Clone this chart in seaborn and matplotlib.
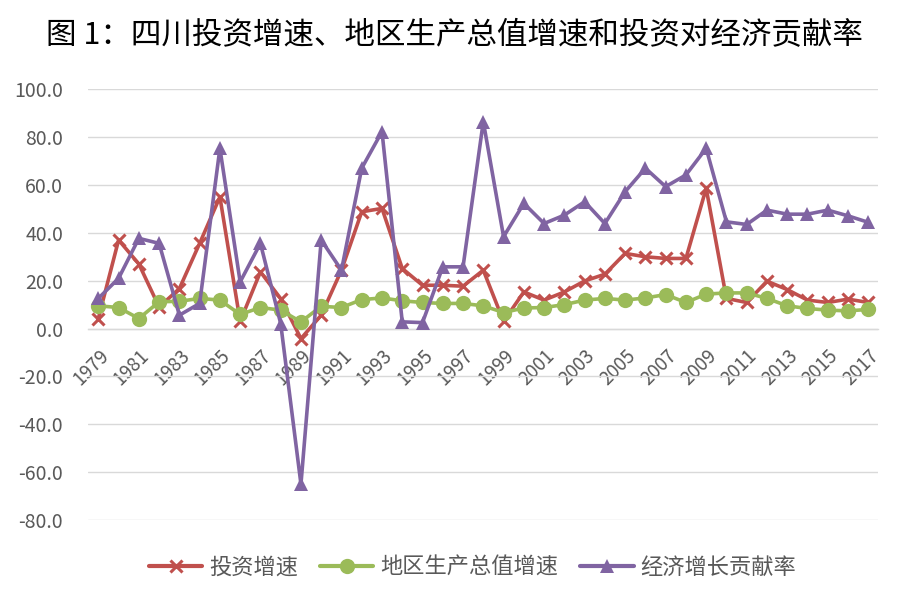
import numpy as np
import pandas as pd
import matplotlib
matplotlib.use("Agg")
import matplotlib.pyplot as plt
import seaborn as sns
from matplotlib.lines import Line2D

years = list(range(1979, 2018))
invest_growth = [4.2, 37.0, 27.0, 9.0, 16.7, 35.6, 55.0, 3.0, 23.7, 12.5, -4.2,
                 5.6, 24.4, 48.8, 50.2, 25.1, 18.1, 18.1, 17.7, 24.4, 3.0,
                 15.3, 11.9, 15.3, 19.9, 22.7, 31.4, 30.0, 29.3, 29.3, 58.6,
                 12.6, 10.9, 19.8, 16.3, 11.9, 10.9, 12.3, 10.9]
gdp_growth = [9.5, 8.8, 4.2, 11.2, 11.4, 12.6, 11.9, 5.9, 8.8, 7.7, 2.8,
              9.3, 8.8, 12.1, 12.8, 11.6, 10.9, 10.5, 10.5, 9.5, 6.7,
              8.6, 8.8, 10.0, 11.9, 12.6, 11.9, 12.8, 14.2, 10.9, 14.4,
              14.9, 14.9, 12.6, 9.5, 8.4, 7.7, 7.4, 8.0]
contrib_rate = [12.6, 21.0, 37.7, 35.6, 5.6, 10.5, 75.3, 19.5, 35.6, 2.1, -65.0,
                37.0, 24.4, 67.0, 82.3, 2.8, 2.5, 25.8, 25.8, 86.5, 38.4,
                52.3, 43.9, 47.4, 53.0, 43.9, 57.2, 67.0, 59.3, 64.2, 75.3,
                44.6, 43.5, 49.5, 47.8, 47.8, 49.5, 47.1, 44.4]
series_names = ["投资增速", "地区生产总值增速", "经济增长贡献率"]
title = "图 1：四川投资增速、地区生产总值增速和投资对经济贡献率"
yticks = [-80, -60, -40, -20, 0, 20, 40, 60, 80, 100]
xtick_years = list(range(1979, 2018, 2))

colors = ["#C0504D", "#9BBB59", "#8064A2"]
markers = ["x", "o", "^"]
msizes = [9, 11, 10]

sns.set_theme(style="white")
plt.rcParams["font.family"] = ["Noto Sans CJK SC", "DejaVu Sans"]

df = pd.concat([
    pd.DataFrame({"year": years, "value": vals, "series": name})
    for name, vals in zip(series_names, [invest_growth, gdp_growth, contrib_rate])
])

fig = plt.figure(figsize=(9, 5.95), dpi=100)
ax = fig.add_axes([0.098, 0.126, 0.878, 0.724])

for name, c, m, ms in zip(series_names, colors, markers, msizes):
    sub = df[df["series"] == name]
    sns.lineplot(data=sub, x="year", y="value", ax=ax, color=c, linewidth=2.6,
                 marker=m, markersize=ms, markeredgewidth=2.2 if m == "x" else 0,
                 markeredgecolor=c, markerfacecolor=c, legend=False, zorder=3)

ax.set_xlim(1978.5, 2017.5)
ax.set_ylim(-80, 100)
ax.set_yticks(yticks)
ax.set_yticklabels([f"{v:.1f}" for v in yticks], fontsize=14, color="#595959")
ax.yaxis.grid(True, color="#D9D9D9", linewidth=1)
ax.xaxis.grid(False)
for s in ["top", "right", "left"]:
    ax.spines[s].set_visible(False)
ax.spines["bottom"].set_position(("data", 0))
ax.spines["bottom"].set_color("#D9D9D9")
ax.spines["bottom"].set_linewidth(1)
ax.set_xticks(xtick_years)
ax.set_xticklabels([str(y) for y in xtick_years], rotation=45, ha="right",
                   rotation_mode="anchor", fontsize=13.5, color="#595959")
ax.tick_params(axis="y", length=0, pad=18)
ax.tick_params(axis="x", length=0, pad=12)
ax.set_xlabel("")
ax.set_ylabel("")

fig.text(0.505, 0.94, title, ha="center", va="center", fontsize=22, color="#000000")

handles = [Line2D([0], [0], color=c, linewidth=3, marker=m, markersize=ms,
                  markeredgewidth=2.2 if m == "x" else 0, markeredgecolor=c,
                  markerfacecolor=c)
           for c, m, ms in zip(colors, markers, msizes)]
leg = fig.legend(handles, series_names, loc="center", bbox_to_anchor=(0.525, 0.047),
                 ncol=3, frameon=False, fontsize=16, handlelength=2.4,
                 columnspacing=1.0, handletextpad=0.3)
for t in leg.get_texts():
    t.set_color("#595959")

fig.savefig("out.png", dpi=100)
